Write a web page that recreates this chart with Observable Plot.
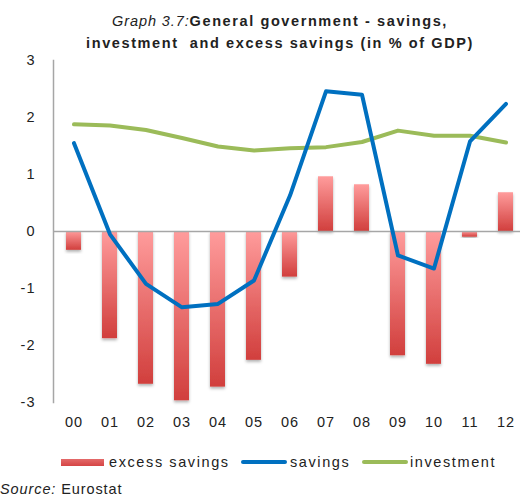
<!DOCTYPE html>
<html>
<head>
<meta charset="utf-8">
<script src="https://cdn.jsdelivr.net/npm/d3@7"></script>
<script src="https://cdn.jsdelivr.net/npm/@observablehq/plot@0.6"></script>
<style>
  body { margin: 0; background: #fff; font-family: "Liberation Sans", Arial, sans-serif; color: #222; }
  #wrap { position: relative; width: 520px; height: 499px; overflow: hidden; }
  #title { position: absolute; top: 10px; left: 0; width: 560px; text-align: center; font-size: 14.5px; line-height: 22px; letter-spacing: 1.6px; }
  #title i { font-weight: normal; font-style: italic; letter-spacing: 0.9px; }
  #title b { font-weight: bold; }
  #chart { position: absolute; top: 56px; left: 0; }
  .lg { position: absolute; top: 453px; font-size: 14.5px; letter-spacing: 1.6px; white-space: nowrap; line-height: 18px; }
  .sw { position: absolute; }
  #source { position: absolute; top: 481px; left: 0; font-size: 14.5px; letter-spacing: 0.9px; }
</style>
</head>
<body>
<div id="wrap">
  <div id="title"><i>Graph 3.7:</i><b>General government - savings,</b><br><b>investment&nbsp; and excess savings (in % of GDP)</b></div>
  <div id="chart"></div>
  <span class="sw" style="left:61px;top:459px;width:43px;height:7px;background:linear-gradient(#e46a6a,#d54545);"></span>
  <span class="lg" style="left:109px;">excess savings</span>
  <span class="sw" style="left:241px;top:460px;width:46px;height:4px;border-radius:2px;background:#0070c0;"></span>
  <span class="lg" style="left:290px;">savings</span>
  <span class="sw" style="left:362px;top:460px;width:46px;height:4px;border-radius:2px;background:#9bbb59;"></span>
  <span class="lg" style="left:410px;">investment</span>
  <div id="source"><i>Source:</i> Eurostat</div>
</div>
<script>
const years = ["00","01","02","03","04","05","06","07","08","09","10","11","12"];
const excessSavings = [-0.33,-1.88,-2.68,-2.97,-2.73,-2.26,-0.80,0.96,0.82,-2.18,-2.33,-0.10,0.68];
const savings = [1.55,-0.05,-0.92,-1.33,-1.27,-0.86,0.63,2.46,2.40,-0.42,-0.65,1.58,2.24];
const investment = [1.88,1.86,1.78,1.64,1.49,1.42,1.46,1.48,1.57,1.77,1.68,1.68,1.56];
const yTicks = [-3,-2,-1,0,1,2,3];

const rows = years.map((y, i) => ({year: y, excess: excessSavings[i], savings: savings[i], investment: investment[i]}));

const svgDefs = () => {
  const s = d3.create("svg:defs");
  const g = s.append("linearGradient").attr("id", "barGrad").attr("x1", 0).attr("y1", 0).attr("x2", 0).attr("y2", 1);
  g.append("stop").attr("offset", "0%").attr("stop-color", "#ff9c9c");
  g.append("stop").attr("offset", "100%").attr("stop-color", "#d13f3d");
  const f = s.append("filter").attr("id", "shadow").attr("x", "-30%").attr("y", "-10%").attr("width", "160%").attr("height", "130%");
  f.append("feDropShadow").attr("dx", 0).attr("dy", 2).attr("stdDeviation", 1.5).attr("flood-color", "#000").attr("flood-opacity", 0.3);
  return s.node();
};

const chart = Plot.plot({
  width: 520,
  height: 380,
  marginTop: 4,
  marginBottom: 34,
  marginLeft: 53,
  marginRight: 0,
  style: {fontFamily: "Liberation Sans, Arial, sans-serif", fontSize: "14.5px", color: "#222", background: "transparent", overflow: "visible", letterSpacing: "1px"},
  x: {type: "band", domain: years, range: [52, 526], paddingInner: 0.59, paddingOuter: 0.29, label: null},
  y: {domain: [-3, 3], label: null},
  marks: [
    svgDefs,
    Plot.barY(rows, {x: "year", y: "excess", fill: "url(#barGrad)"}),
    Plot.ruleY([0], {stroke: "#a6a6a6", strokeWidth: 1.5}),
    Plot.frame({anchor: "left", stroke: "#a6a6a6", strokeWidth: 1.5}),
    Plot.line(rows, {x: "year", y: "investment", stroke: "#9bbb59", strokeWidth: 4, strokeLinejoin: "round", strokeLinecap: "round"}),
    Plot.line(rows, {x: "year", y: "savings", stroke: "#0070c0", strokeWidth: 4, strokeLinejoin: "round", strokeLinecap: "round"}),
    Plot.axisY({ticks: yTicks, tickSize: 0, tickPadding: 18, tickFormat: d => d < 0 ? "-" + Math.abs(d) : String(d), fontSize: 14.5}),
    Plot.axisX({tickSize: 0, tickPadding: 14, fontSize: 14.5})
  ]
});
d3.select(chart).selectAll("rect").filter(function() { return this.getAttribute("fill") === "url(#barGrad)" || (this.parentNode && this.parentNode.getAttribute("fill") === "url(#barGrad)"); }).attr("filter", "url(#shadow)");
document.getElementById("chart").appendChild(chart);
</script>
</body>
</html>
